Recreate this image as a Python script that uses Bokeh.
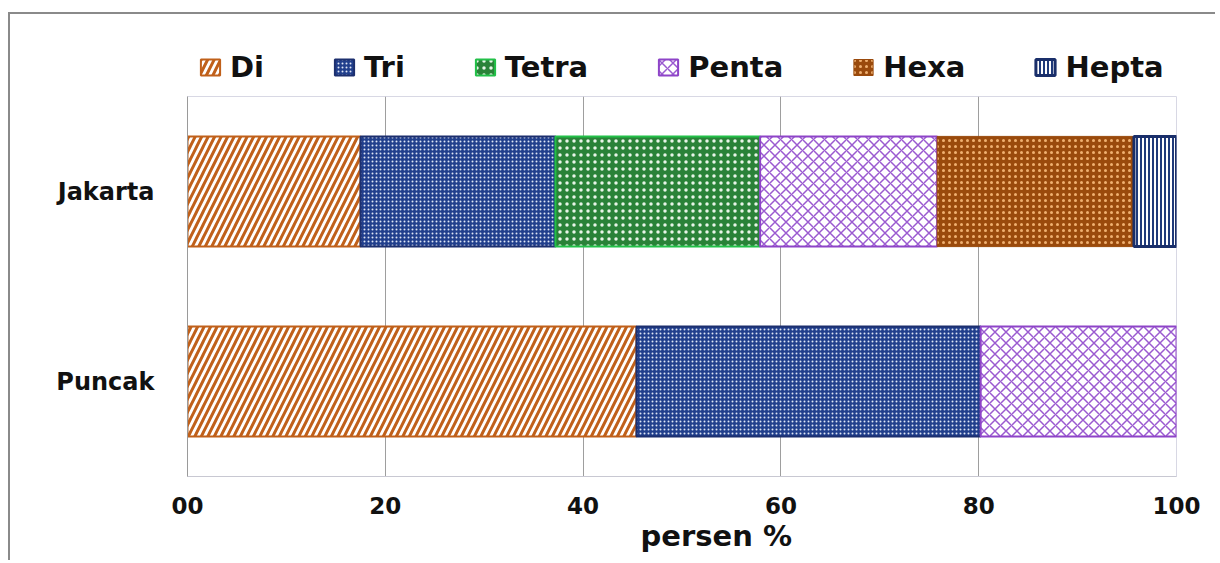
from bokeh.plotting import figure
from bokeh.models import (Range1d, FactorRange, ColumnDataSource, Legend, LegendItem,
                          FixedTicker, Title)
from bokeh.layouts import column
from bokeh.embed import file_html
from bokeh.resources import INLINE

# ---- data ----
categories = ["Jakarta", "Puncak"]
series = ["Di", "Tri", "Tetra", "Penta", "Hexa", "Hepta"]
jakarta = [17.5, 19.7, 20.7, 17.9, 19.9, 4.3]
puncak = [45.4, 34.8, 0.0, 19.8, 0.0, 0.0]
x_ticks = [0, 20, 40, 60, 80, 100]
x_tick_labels = ["00", "20", "40", "60", "80", "100"]
x_title = "persen %"

# ---- styles per series ----
styles = {
    "Di":    dict(fill_color="white", hatch_pattern="/", hatch_color="#c0601a", hatch_scale=13,
                  hatch_weight=3, line_color="#c0601a", line_width=2),
    "Tri":   dict(fill_color="#213f8c", hatch_pattern="dot", hatch_color="#dfe6f5", hatch_scale=4,
                  hatch_weight=1, line_color="#1c2f6e", line_width=2),
    "Tetra": dict(fill_color="#2a8238", hatch_pattern="dot", hatch_color="#e8f4e8", hatch_scale=7,
                  hatch_weight=1, line_color="#22c048", line_width=2),
    "Penta": dict(fill_color="white", hatch_pattern="x", hatch_color="#9a5ad0", hatch_scale=11,
                  hatch_weight=1.5, line_color="#8e44c8", line_width=2),
    "Hexa":  dict(fill_color="#9a4a0c", hatch_pattern="dot", hatch_color="#f0b070", hatch_scale=6,
                  hatch_weight=1, line_color="#9a4a0c", line_width=1),
    "Hepta": dict(fill_color="white", hatch_pattern="|", hatch_color="#1f3a7a", hatch_scale=4,
                  hatch_weight=2, line_color="#1a2f6a", line_width=3),
}

FONT = "DejaVu Sans"
W = 1205

# ---------------- main chart ----------------
p = figure(width=W, height=465,
           x_range=Range1d(0, 100),
           y_range=FactorRange(factors=categories[::-1], range_padding=0),
           output_backend="svg", toolbar_location=None,
           min_border_left=177, min_border_right=39, min_border_top=1, min_border_bottom=84)
p.background_fill_color = "white"
p.border_fill_color = "white"
p.outline_line_color = "#d8d8e4"
p.outline_line_width = 1

# ---------------- legend strip ----------------
lf = figure(width=W, height=81, x_range=Range1d(0, 100),
            y_range=FactorRange(factors=categories[::-1], range_padding=0),
            output_backend="svg", toolbar_location=None,
            x_axis_location=None, y_axis_location=None,
            min_border_left=177, min_border_right=39, min_border_top=0, min_border_bottom=0)
lf.outline_line_color = None
lf.grid.grid_line_color = None
lf.background_fill_color = "white"
lf.border_fill_color = "white"

values = {"Jakarta": jakarta, "Puncak": puncak}
items = []
for i, s in enumerate(series):
    ys, lefts, rights = [], [], []
    for c in categories:
        v = values[c]
        left = sum(v[:i])
        if v[i] > 0:
            ys.append(c)
            lefts.append(left)
            rights.append(left + v[i])
    src = ColumnDataSource(dict(y=ys, left=lefts, right=rights))
    p.hbar(y="y", left="left", right="right", height=0.58, source=src, **styles[s])
    # same series in the legend strip (not drawn, only used for its legend swatch)
    r = lf.hbar(y="y", left="left", right="right", height=0.58, source=src,
                visible=False, **styles[s])
    items.append(LegendItem(label=s, renderers=[r]))

legend = Legend(items=items, orientation="horizontal", location=(11, 11),
                label_text_font=FONT, label_text_font_style="bold", label_text_font_size="29px",
                label_text_color="#111111", glyph_width=24, glyph_height=20,
                label_standoff=8, spacing=68, padding=0, margin=0,
                border_line_alpha=0, background_fill_alpha=0,
                inactive_fill_alpha=0)
lf.add_layout(legend, "center")

# x axis
p.xaxis.ticker = FixedTicker(ticks=x_ticks)
p.xaxis.major_label_overrides = {t: l for t, l in zip(x_ticks, x_tick_labels)}
p.xaxis.major_label_text_font = FONT
p.xaxis.major_label_text_font_style = "bold"
p.xaxis.major_label_text_font_size = "23px"
p.xaxis.major_label_text_color = "#111111"
p.xaxis.major_tick_out = 0
p.xaxis.major_tick_in = 0
p.xaxis.minor_tick_out = 0
p.xaxis.minor_tick_in = 0
p.xaxis.major_label_standoff = 20
p.xaxis.axis_line_color = "#c8c8d2"

xt = Title(text=x_title, align="left", offset=453, standoff=0,
           text_font=FONT, text_font_style="bold", text_font_size="29px", text_color="#111111")
p.add_layout(xt, "below")

# y axis
p.yaxis.major_label_text_font = FONT
p.yaxis.major_label_text_font_style = "bold"
p.yaxis.major_label_text_font_size = "24px"
p.yaxis.major_label_text_color = "#111111"
p.yaxis.major_tick_out = 0
p.yaxis.major_tick_in = 0
p.yaxis.major_label_standoff = 33
p.yaxis.axis_line_color = "#9a9a9a"

# grid
p.xgrid.ticker = FixedTicker(ticks=[20, 40, 60, 80])
p.xgrid.grid_line_color = "#9e9e9e"
p.xgrid.grid_line_width = 1
p.ygrid.grid_line_color = None

layout = column(lf, p, spacing=0,
                styles={"margin-left": "8px", "margin-top": "12px",
                        "border-left": "2px solid #8a8a8a", "border-top": "2px solid #8a8a8a"})

open("out.html", "w").write(file_html(layout, INLINE))
